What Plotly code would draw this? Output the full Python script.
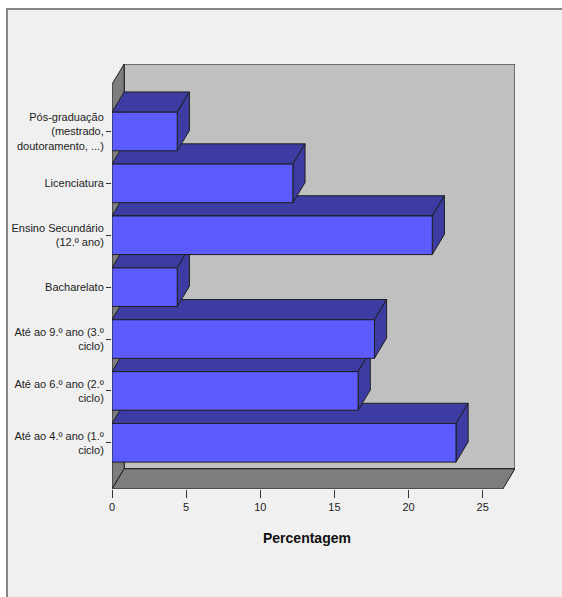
import plotly.graph_objects as go

# ---- data (top to bottom as shown) ----
categories = [
    "Pós-graduação<br>(mestrado,<br>doutoramento, ...)",
    "Licenciatura",
    "Ensino Secundário<br>(12.º ano)",
    "Bacharelato",
    "Até ao 9.º ano (3.º<br>ciclo)",
    "Até ao 6.º ano (2.º<br>ciclo)",
    "Até ao 4.º ano (1.º<br>ciclo)",
]
values = [4.4, 12.2, 21.6, 4.4, 17.7, 16.6, 23.2]
x_ticks = [0, 5, 10, 15, 20, 25]
x_title = "Percentagem"

# ---- style / geometry ----
W, H = 562, 597
L, R, T, B = 112, 47, 64, 108
XMAX = 27.18
YMIN, YMAX = -0.890, 7.301
HALF = 0.372       # half bar thickness (category units)
DX, DY = 0.82, 0.39  # 3D depth offset (x units, y units)
FRONT = "#5b5bfe"
SIDE = "#3c3ca2"
OUT = "#1e1e1e"
WALL_BACK = "#c0c0c0"
WALL_SIDE = "#7d7d7d"
FONT = "Liberation Sans, Arial, sans-serif"

n = len(categories)
ypos = [n - 1 - k for k in range(n)]

fig = go.Figure()

def poly(xs, ys, color):
    fig.add_trace(go.Scatter(
        x=xs + [xs[0]], y=ys + [ys[0]], mode="lines", fill="toself",
        fillcolor=color, line=dict(color=OUT, width=1),
        hoverinfo="skip", showlegend=False))

# bars: draw from bottom to top so upper bars cover lower bars' top faces
order = sorted(range(n), key=lambda k: ypos[k])
for k in order:
    v = values[k]
    y = ypos[k]
    y0, y1 = y - HALF, y + HALF
    poly([0, v, v + DX, DX], [y1, y1, y1 + DY, y1 + DY], SIDE)          # top face
    poly([v, v + DX, v + DX, v], [y0, y0 + DY, y1 + DY, y1], SIDE)      # side face
    poly([0, v, v, 0], [y0, y0, y1, y1], FRONT)                          # front face

x_front_end = XMAX - DX
shapes = [
    dict(type="rect", xref="paper", yref="paper",
         x0=(7 - L) / (W - L - R), x1=(600 - L) / (W - L - R),
         y0=(H - B - 620) / (H - T - B), y1=(H - B - 9) / (H - T - B),
         fillcolor="#f0f0f0", line=dict(color="#858585", width=2), layer="below"),
    dict(type="rect", xref="x", yref="y", x0=DX, x1=XMAX, y0=YMIN + DY, y1=YMAX,
         fillcolor=WALL_BACK, line=dict(color=OUT, width=1), layer="below"),
    dict(type="path", xref="x", yref="y",
         path=f"M0,{YMIN} L0,{YMAX - DY} L{DX},{YMAX} L{DX},{YMIN + DY} Z",
         fillcolor=WALL_SIDE, line=dict(color=OUT, width=1), layer="below"),
    dict(type="path", xref="x", yref="y",
         path=f"M0,{YMIN} L{x_front_end},{YMIN} L{XMAX},{YMIN + DY} L{DX},{YMIN + DY} Z",
         fillcolor=WALL_SIDE, line=dict(color=OUT, width=1), layer="below"),
]

fig.update_layout(
    width=W, height=H,
    margin=dict(l=L, r=R, t=T, b=B, pad=0, autoexpand=False),
    paper_bgcolor="white",
    plot_bgcolor="rgba(0,0,0,0)",
    showlegend=False,
    shapes=shapes,
    font=dict(family=FONT, size=11, color="#222222"),
    xaxis=dict(range=[0, XMAX], tickvals=x_ticks, ticktext=[str(t) for t in x_ticks],
               ticks="outside", ticklen=8, tickwidth=1, tickcolor="#333333",
               showgrid=False, zeroline=False, showline=False, fixedrange=True,
               automargin=False,
               tickfont=dict(family=FONT, size=11, color="#222222")),
    yaxis=dict(range=[YMIN, YMAX], tickvals=ypos, ticktext=categories,
               ticks="outside", ticklen=5, tickwidth=1, tickcolor="#333333",
               showgrid=False, zeroline=False, showline=False, fixedrange=True,
               automargin=False,
               tickfont=dict(family=FONT, size=11, color="#222222")),
    annotations=[dict(
        text=f"<b>{x_title}</b>", xref="paper", yref="paper",
        x=(307 - L) / (W - L - R), y=(H - B - 538) / (H - T - B),
        xanchor="center", yanchor="middle", showarrow=False,
        font=dict(family=FONT, size=14, color="#111111"))],
)

fig.write_html("out.html")
